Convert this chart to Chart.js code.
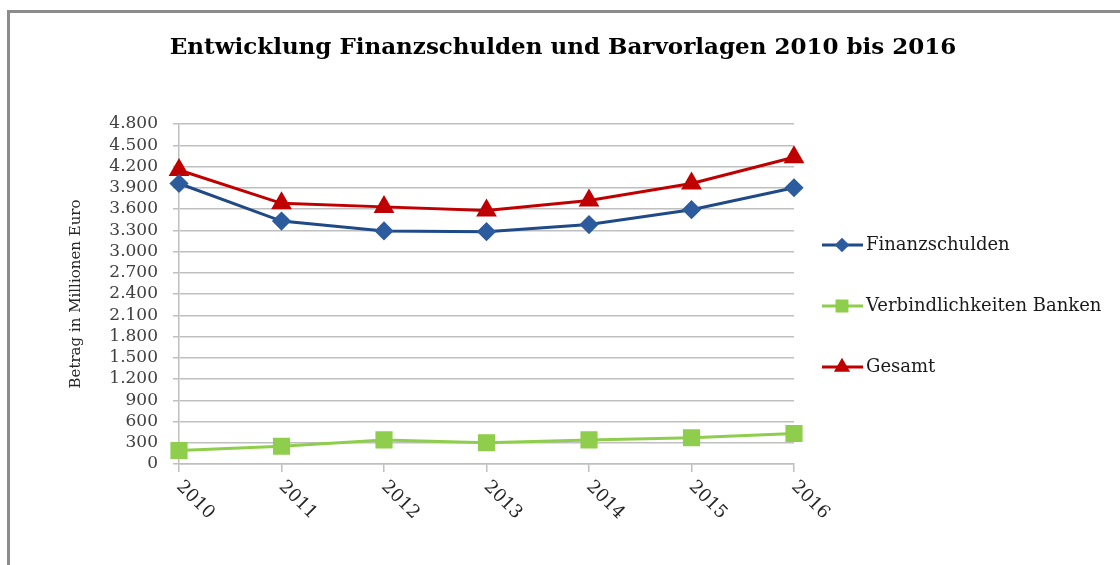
<!DOCTYPE html>
<html>
<head>
<meta charset="utf-8">
<script src="https://cdn.jsdelivr.net/npm/chart.js@4/dist/chart.umd.min.js"></script>
<style>
  html, body { margin: 0; padding: 0; background: #fff; }
  #wrap { position: relative; width: 1120px; height: 565px; }
  #frame { position: absolute; left: 7px; top: 10px; right: -5px; bottom: -5px;
           border-top: 3px solid #8c8c8c; border-left: 3px solid #8c8c8c; pointer-events: none; }
</style>
</head>
<body>
<div id="wrap">
  <canvas id="chart" width="1120" height="565"></canvas>
  <div id="frame"></div>
</div>
<script>
// values (Mio. Euro)
const years = ['2010', '2011', '2012', '2013', '2014', '2015', '2016'];
const finanzschulden = [3960, 3430, 3290, 3280, 3380, 3590, 3900];
const verbindlichkeitenBanken = [190, 250, 340, 300, 340, 370, 430];
const gesamt = [4150, 3680, 3630, 3580, 3720, 3960, 4330];

const titleText = 'Entwicklung Finanzschulden und Barvorlagen 2010 bis 2016';
const serif = "'DejaVu Serif', 'Liberation Serif', serif";

// title, rotated x labels and legend drawn on the canvas
const extras = {
    id: 'extras',
    afterDraw(chart) {
        const ctx = chart.ctx;
        const x = chart.scales.x;

        ctx.save();
        ctx.fillStyle = '#000';
        ctx.font = 'bold 23px ' + serif;
        ctx.textAlign = 'center';
        ctx.textBaseline = 'middle';
        ctx.fillText(titleText, 563, 48);
        ctx.restore();

        // year labels, turned 45 degrees clockwise
        ctx.save();
        ctx.fillStyle = '#262626';
        ctx.font = '18px ' + serif;
        ctx.textAlign = 'left';
        ctx.textBaseline = 'middle';
        years.forEach((y, i) => {
            const px = x.getPixelForTick(i);
            ctx.save();
            ctx.translate(px, x.top + 20);
            ctx.rotate(Math.PI / 4);
            ctx.fillText(y, 0, 0);
            ctx.restore();
        });
        ctx.restore();

        // legend
        const rows = [245, 306, 367];
        chart.data.datasets.forEach((ds, i) => {
            const ly = rows[i];
            ctx.save();
            ctx.strokeStyle = ds.borderColor;
            ctx.lineWidth = 3;
            ctx.beginPath();
            ctx.moveTo(822, ly);
            ctx.lineTo(863, ly);
            ctx.stroke();
            ctx.fillStyle = ds.pointBackgroundColor;
            ctx.strokeStyle = ds.pointBackgroundColor;
            if (Chart.helpers && Chart.helpers.drawPoint) {
                Chart.helpers.drawPoint(ctx, {
                    pointStyle: ds.pointStyle,
                    radius: ds.pointRadius * 0.7,
                    borderWidth: 1,
                    rotation: 0
                }, 842, ly);
            }
            ctx.fillStyle = '#1a1a1a';
            ctx.font = '18px ' + serif;
            ctx.textAlign = 'left';
            ctx.textBaseline = 'middle';
            ctx.fillText(ds.label, 866, ly);
            ctx.restore();
        });
    }
};

new Chart(document.getElementById('chart'), {
    type: 'line',
    data: {
        labels: years,
        datasets: [{
            label: 'Finanzschulden',
            data: finanzschulden,
            borderColor: '#1f4a87',
            backgroundColor: '#2c5c9e',
            pointBackgroundColor: '#2c5c9e',
            pointBorderColor: '#2c5c9e',
            pointStyle: 'rectRot',
            pointRadius: 7.5,
            borderWidth: 3
        }, {
            label: 'Verbindlichkeiten Banken',
            data: verbindlichkeitenBanken,
            borderColor: '#8fce4c',
            backgroundColor: '#8fce4c',
            pointBackgroundColor: '#8fce4c',
            pointBorderColor: '#8fce4c',
            pointStyle: 'rect',
            pointRadius: 10,
            borderWidth: 3
        }, {
            label: 'Gesamt',
            data: gesamt,
            borderColor: '#c00000',
            backgroundColor: '#c00000',
            pointBackgroundColor: '#c00000',
            pointBorderColor: '#c00000',
            pointStyle: 'triangle',
            pointRadius: 9,
            borderWidth: 3
        }]
    },
    options: {
        responsive: false,
        animation: false,
        layout: { padding: { left: 0, right: 326, top: 124, bottom: 0 } },
        plugins: {
            legend: { display: false },
            title: { display: false },
            tooltip: { enabled: false }
        },
        scales: {
            x: {
                offset: false,
                afterFit: s => { s.height = 101; },
                ticks: { display: false },
                grid: { drawOnChartArea: false, drawTicks: true, tickLength: 8, color: '#bfbfbf', lineWidth: 1.5 },
                border: { display: true, color: '#bfbfbf', width: 1.5 }
            },
            y: {
                min: 0,
                max: 4800,
                afterFit: s => { s.width = 179; },
                ticks: {
                    stepSize: 300,
                    autoSkip: false,
                    padding: 15,
                    color: '#404040',
                    font: { family: serif, size: 17 },
                    callback: v => v.toLocaleString('de-DE')
                },
                grid: { color: '#bfbfbf', lineWidth: 1.5, tickLength: 6 },
                border: { display: true, color: '#bfbfbf', width: 1.5 },
                title: {
                    display: true,
                    text: 'Betrag in Millionen Euro',
                    color: '#262626',
                    font: { family: serif, size: 15 },
                    padding: { top: 67, bottom: 0 }
                }
            }
        }
    },
    plugins: [extras]
});
</script>
</body>
</html>
